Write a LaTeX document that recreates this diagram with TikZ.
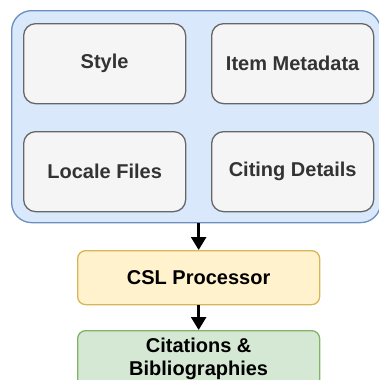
\documentclass[tikz,border=0pt]{standalone}
\usepackage{fontspec}
\setmainfont{Liberation Sans}
\usetikzlibrary{arrows.meta}
\definecolor{grpfill}{HTML}{DAE8FC}
\definecolor{grpline}{HTML}{6C8EBF}
\definecolor{itemfill}{HTML}{F5F5F5}
\definecolor{itemline}{HTML}{666666}
\definecolor{itemtext}{HTML}{333333}
\definecolor{procfill}{HTML}{FFF2CC}
\definecolor{procline}{HTML}{D6B656}
\definecolor{outfill}{HTML}{D5E8D4}
\definecolor{outline}{HTML}{82B366}
\tikzset{
  itembox/.style={draw=itemline, fill=itemfill, line width=1.3pt, rounded corners=12pt,
    minimum width=162pt, minimum height=80pt, inner sep=0pt, text=itemtext,
    font=\fontsize{20}{23}\selectfont\bfseries, anchor=north west},
  flowbox/.style={line width=1.3pt, rounded corners=8pt, minimum width=242pt, inner sep=0pt,
    font=\fontsize{20}{23}\selectfont\bfseries, align=center, anchor=north west},
  flowarrow/.style={line width=2.6pt, -{Triangle[width=15pt,length=13pt]}}
}
\begin{document}
\begin{tikzpicture}[x=1pt,y=-1pt]
\useasboundingbox (0,0) rectangle (379,380);
\node[draw=grpline, fill=grpfill, line width=1.3pt, rounded corners=20pt, minimum width=369pt,
  minimum height=212pt, anchor=north west, inner sep=0pt] (grp) at (11,10) {};
\node[itembox] (style) at (23,23) {Style};
\node[itembox] (meta) at (211,23) {Item Metadata};
\node[itembox] (locale) at (23,131) {Locale Files};
\node[itembox] (citing) at (211,131) {Citing Details};
\node[flowbox, draw=procline, fill=procfill, minimum height=54pt] (csl) at (77,250) {CSL Processor};
\node[flowbox, draw=outline, fill=outfill, minimum height=57pt] (out) at (77,330) {Citations \&\\Bibliographies};
\draw[flowarrow] (grp.south -| csl.north) -- (csl.north);
\draw[flowarrow] (csl.south) -- (out.north);
\end{tikzpicture}
\end{document}
